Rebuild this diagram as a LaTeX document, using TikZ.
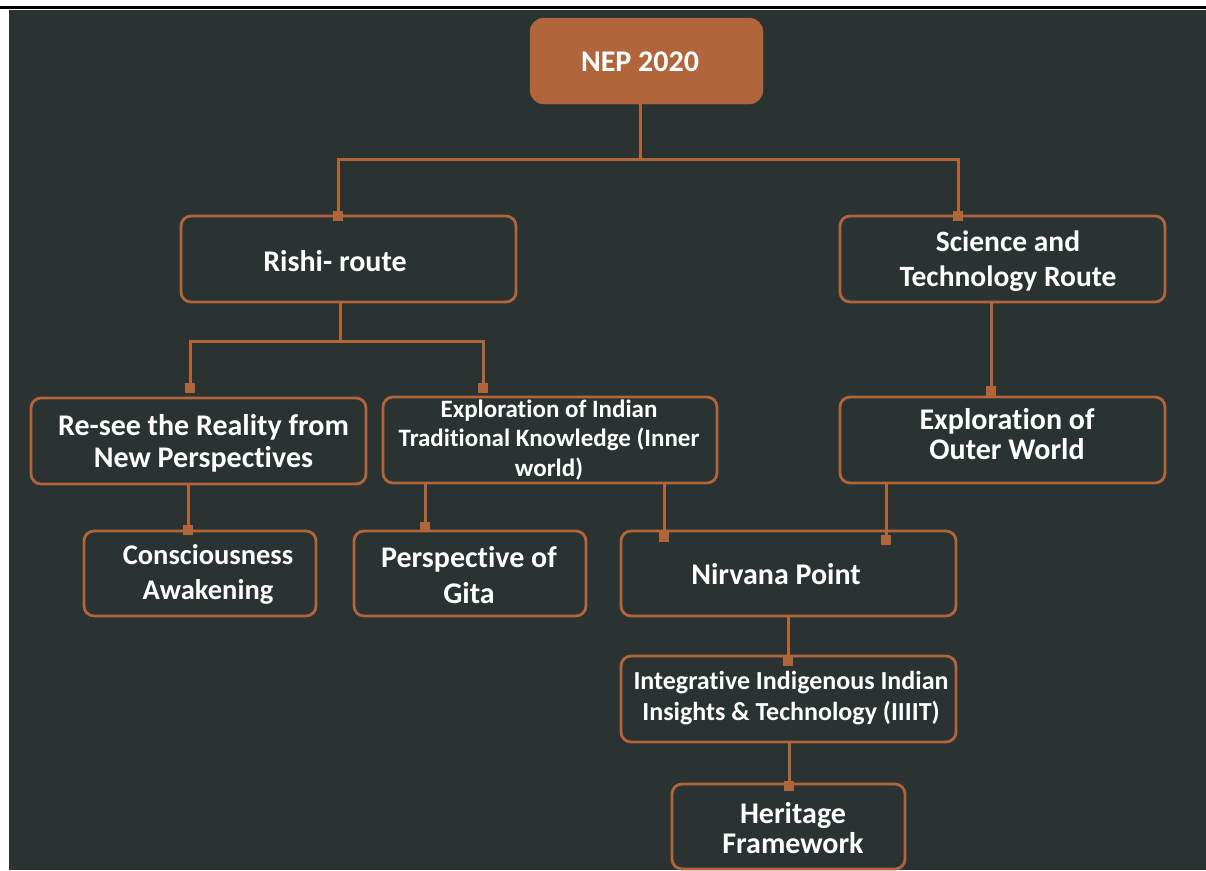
\documentclass[tikz,border=0pt]{standalone}
\usepackage{fontspec}
\setmainfont[Ligatures={NoCommon},RawFeature={-liga;-clig;-calt;-dlig}]{Carlito}
\definecolor{bgdark}{HTML}{2B3232}
\definecolor{rust}{HTML}{B0663A}
\tikzset{
  box/.style={draw=rust, line width=2.8pt, rounded corners=10pt, fill=bgdark, inner sep=0pt},
  topbox/.style={fill=rust, draw=rust, rounded corners=14pt, inner sep=0pt},
  lbl/.style={text=white, align=center, inner sep=0pt},
  conn/.style={draw=rust, line width=3pt},
  marker/.style={fill=rust, minimum size=10pt, inner sep=0pt}
}
\newcommand{\fs}[2]{\fontsize{#1}{#2}\selectfont\bfseries}
\begin{document}
\begin{tikzpicture}[x=1pt,y=-1pt]
\useasboundingbox (0,0) rectangle (1206,870);
\fill[white] (0,0) rectangle (1206,870);
\fill[black] (0,5.5) rectangle (1206,8.5);
\fill[bgdark] (9,10) rectangle (1206,870);

% boxes
\node[topbox, minimum width=233pt, minimum height=86pt] (nep) at (646.5,61) {};
\node[lbl, font=\fs{30}{32}] at (640,62) {NEP 2020};

\node[box, minimum width=335pt, minimum height=86pt] (rishi) at (348.5,259) {};
\node[lbl, font=\fs{30}{32}] at (335,261) {Rishi- route};

\node[box, minimum width=325pt, minimum height=86pt] (sci) at (1002.5,259) {};
\node[lbl, font=\fs{29.5}{35}] at (1008,261) {Science and\\Technology Route};

\node[box, minimum width=335pt, minimum height=86pt] (resee) at (198.5,441) {};
\node[lbl, font=\fs{30}{32}] at (203.5,443) {Re-see the Reality from\\New Perspectives};

\node[box, minimum width=334pt, minimum height=86pt] (indian) at (550,440) {};
\node[lbl, font=\fs{25}{29.5}] at (549,440) {Exploration of Indian\\Traditional Knowledge (Inner\\world)};

\node[box, minimum width=325pt, minimum height=86pt] (outer) at (1002.5,440) {};
\node[lbl, font=\fs{30}{30}] at (1007,434) {Exploration of\\Outer World};

\node[box, minimum width=232pt, minimum height=85pt] (consc) at (200,573.5) {};
\node[lbl, font=\fs{28.5}{35}] at (208,574.5) {Consciousness\\Awakening};

\node[box, minimum width=232pt, minimum height=85pt] (gita) at (470,573.5) {};
\node[lbl, font=\fs{30}{36}] at (469,575) {Perspective of\\Gita};

\node[box, minimum width=335pt, minimum height=85pt] (nirvana) at (788.5,573.5) {};
\node[lbl, font=\fs{30}{32}] at (776,574) {Nirvana Point};

\node[box, minimum width=335pt, minimum height=86pt] (iiit) at (788.5,699) {};
\node[lbl, font=\fs{26}{31}] at (791,698.5) {Integrative Indigenous Indian\\Insights \& Technology (IIIIT)};

\node[box, minimum width=233pt, minimum height=85pt] (herit) at (788.5,826.5) {};
\node[lbl, font=\fs{30}{30}] at (793,828) {Heritage\\Framework};

% markers
\node[marker] (mR) at (338,216) {};
\node[marker] (mS) at (958,216) {};
\node[marker] (mRe) at (190,388) {};
\node[marker] (mIn) at (483,388) {};
\node[marker] (mOu) at (991,391) {};
\node[marker] (mCo) at (188,530) {};
\node[marker] (mGi) at (425,527) {};
\node[marker] (mN1) at (664,537) {};
\node[marker] (mN2) at (886,540) {};
\node[marker] (mII) at (788,661) {};
\node[marker] (mHe) at (789,786) {};

\coordinate (j1) at (640,159);
\coordinate (j2) at (340,341);

% connectors
\draw[conn] (j1 |- nep.south) -- (j1);
\draw[conn] (mR.center) |- (j1) -| (mS.center);
\draw[conn] (j2 |- rishi.south) -- (j2);
\draw[conn] (mRe.center) |- (j2) -| (mIn.center);
\draw[conn] (mOu.center |- sci.south) -- (mOu.center);
\draw[conn] (mCo.center |- resee.south) -- (mCo.center);
\draw[conn] (mGi.center |- indian.south) -- (mGi.center);
\draw[conn] (mN1.center |- indian.south) -- (mN1.center);
\draw[conn] (mN2.center |- outer.south) -- (mN2.center);
\draw[conn] (mII.center |- nirvana.south) -- (mII.center);
\draw[conn] (mHe.center |- iiit.south) -- (mHe.center);

% redraw markers on top
\foreach \m in {mR,mS,mRe,mIn,mOu,mCo,mGi,mN1,mN2,mII,mHe}
  \fill[rust] ([shift={(-5,-5)}]\m.center) rectangle ([shift={(5,5)}]\m.center);
\end{tikzpicture}
\end{document}
